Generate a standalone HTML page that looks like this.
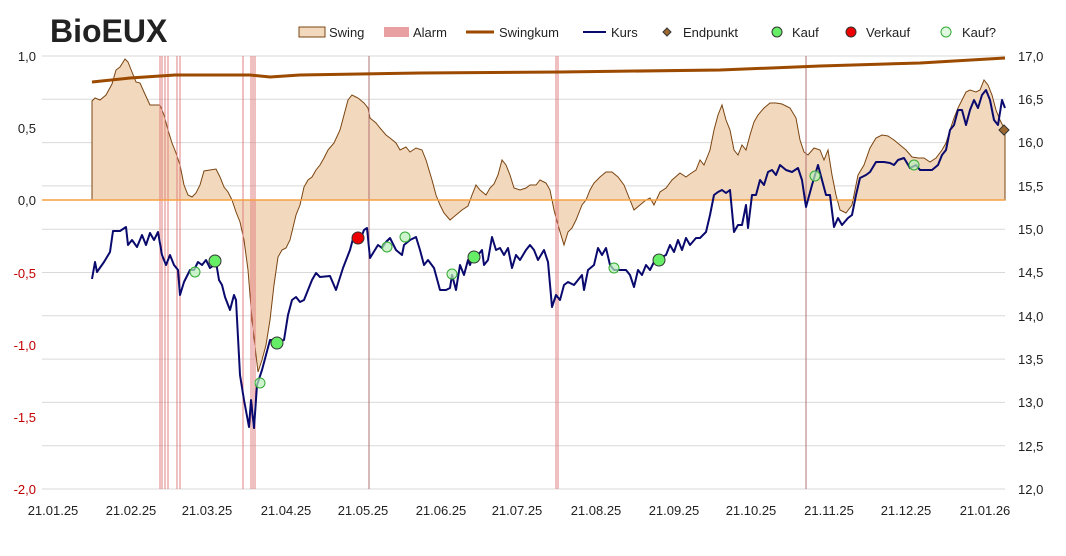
<!DOCTYPE html>
<html><head><meta charset="utf-8"><style>
body{margin:0;background:#fff}
svg{display:block;font-family:"Liberation Sans",sans-serif}
</style></head><body>
<svg width="1066" height="556" viewBox="0 0 1066 556" xmlns="http://www.w3.org/2000/svg">
<rect width="1066" height="556" fill="#fff"/>
<g stroke="#d9d9d9" stroke-width="1">
<line x1="42" y1="56" x2="1005" y2="56"/><line x1="42" y1="99.3" x2="1005" y2="99.3"/><line x1="42" y1="142.6" x2="1005" y2="142.6"/><line x1="42" y1="185.9" x2="1005" y2="185.9"/><line x1="42" y1="229.2" x2="1005" y2="229.2"/><line x1="42" y1="272.5" x2="1005" y2="272.5"/><line x1="42" y1="315.8" x2="1005" y2="315.8"/><line x1="42" y1="359.1" x2="1005" y2="359.1"/><line x1="42" y1="402.4" x2="1005" y2="402.4"/><line x1="42" y1="445.7" x2="1005" y2="445.7"/><line x1="42" y1="489" x2="1005" y2="489"/>
</g>
<polygon fill="#f2d9be" stroke="#7a4410" stroke-width="1" points="92,200 92,101 95,98 100,100 106,95 112,84 116,70 120,67 125,59 128,62 132,72 136,82 140,83 144,92 150,105 160,105 164,115 168,130 172,143 176,153 180,165 184,185 188,195 192,197 196,193 200,185 204,171 210,170 216,169 220,177 224,187 228,192 232,200 236,212 240,222 244,240 248,270 252,320 256,355 258,372 262,360 266,345 270,320 274,285 278,257 282,250 286,248 290,240 296,215 300,205 304,187 308,180 312,177 316,170 320,165 324,158 328,150 334,143 340,130 344,115 348,100 352,95 358,98 364,103 368,108 370,118 376,123 380,128 386,135 390,138 396,143 400,150 406,147 410,152 416,148 422,150 426,160 432,180 436,195 440,205 444,213 450,220 456,215 462,210 468,206 472,195 476,185 480,190 486,195 490,188 494,184 498,175 502,160 506,165 510,175 514,188 520,190 526,188 530,185 536,185 540,180 546,183 550,190 554,210 558,225 564,245 568,232 572,228 576,220 582,205 586,200 590,190 594,183 600,177 606,172 612,172 618,177 624,185 628,195 634,210 640,205 646,200 650,198 654,205 660,192 666,188 672,180 680,173 686,177 690,174 696,170 700,160 704,165 710,150 714,130 718,115 722,105 726,120 730,130 734,150 738,155 742,145 746,150 750,135 754,122 758,115 764,108 770,103 776,103 782,104 790,108 796,118 800,140 804,152 808,155 814,148 820,150 824,160 828,150 832,175 836,195 840,210 846,213 852,205 858,175 864,165 870,148 876,138 882,135 888,136 894,140 900,145 906,150 912,157 918,158 924,158 930,162 936,158 942,150 946,143 950,130 954,118 958,108 962,100 966,92 970,90 976,92 980,90 984,80 988,85 992,95 996,110 1000,120 1005,130 1005,200"/>
<g stroke="#e08080" stroke-width="1">
<line x1="160" y1="56" x2="160" y2="489"/><line x1="162" y1="56" x2="162" y2="489"/><line x1="165" y1="56" x2="165" y2="489"/><line x1="168" y1="56" x2="168" y2="489"/><line x1="177" y1="56" x2="177" y2="489"/><line x1="180" y1="56" x2="180" y2="489"/><line x1="243" y1="56" x2="243" y2="489"/><line x1="251" y1="56" x2="251" y2="489"/><line x1="253" y1="56" x2="253" y2="489"/><line x1="255" y1="56" x2="255" y2="489"/><line x1="556" y1="56" x2="556" y2="489"/><line x1="558" y1="56" x2="558" y2="489"/>
</g>
<g stroke="#b07070" stroke-width="1"><line x1="369" y1="56" x2="369" y2="489"/><line x1="806" y1="56" x2="806" y2="489"/></g>
<line x1="42" y1="200" x2="1005" y2="200" stroke="#f5a040" stroke-width="1.5"/>
<polyline fill="none" stroke="#9c4a00" stroke-width="3" points="92,82 130,78 175,75 250,75 270,77 300,75 420,73 560,72 720,70 820,66 920,63 1005,58"/>
<polyline fill="none" stroke="#0a0a6e" stroke-width="2" stroke-linejoin="round" points="92,279 95,262 97,272 104,262 110,252 113,231 120,231 126,227 128,245 132,240 137,247 142,235 146,245 150,233 154,240 158,232 162,255 166,265 170,255 174,265 178,270 180,295 184,282 190,270 194,270 198,262 202,265 206,260 210,268 214,265 216,262 219,280 222,285 225,297 230,310 234,295 236,300 240,375 244,400 249,427 251,400 254,428 257,385 262,370 266,355 270,340 272,340 276,342 284,340 288,315 292,300 296,297 300,302 304,300 312,280 316,273 320,277 330,276 336,290 343,268 350,250 354,235 357,238 361,238 364,230 367,228 370,258 378,245 382,248 386,242 390,238 396,250 402,255 404,245 410,240 416,237 420,250 424,265 428,260 434,268 440,290 446,290 450,288 452,275 456,290 460,265 464,275 468,260 470,265 474,253 478,255 482,250 484,265 488,260 492,237 496,250 500,248 504,255 508,248 512,268 516,255 520,260 526,250 530,245 534,250 538,260 544,250 548,262 552,307 556,295 560,300 564,285 568,282 574,285 578,280 582,275 584,290 588,270 594,265 598,248 602,255 606,248 610,265 614,270 620,270 626,270 630,275 634,287 638,270 642,275 646,265 650,270 654,262 660,258 666,255 670,245 674,252 678,240 682,250 686,238 690,245 696,238 700,238 706,232 710,215 714,195 718,192 722,190 726,193 730,190 734,232 738,225 742,225 746,205 748,228 752,195 756,195 760,180 764,185 768,172 772,170 776,175 780,165 786,170 792,172 798,168 802,180 806,207 812,185 818,165 822,180 826,195 830,195 834,227 838,218 842,225 848,218 852,215 856,195 860,178 866,175 870,172 876,162 884,162 890,163 894,165 898,160 904,158 910,168 916,165 920,170 926,170 932,170 938,165 942,155 946,150 950,130 954,125 958,110 962,110 966,125 970,110 974,100 978,108 982,95 986,90 990,100 994,120 998,125 1002,100 1005,108"/>
<g fill="#b8f0b8" fill-opacity="0.7" stroke="#33aa33" stroke-width="1">
<circle cx="195" cy="272" r="5"/><circle cx="260" cy="383" r="5"/><circle cx="387" cy="247" r="5"/><circle cx="405" cy="237" r="5"/><circle cx="452" cy="274" r="5"/><circle cx="614" cy="268" r="5"/><circle cx="815" cy="176" r="5"/><circle cx="914" cy="165" r="5"/>
</g>
<g fill="#66ee66" stroke="#333" stroke-width="1">
<circle cx="215" cy="261" r="6"/><circle cx="277" cy="343" r="6"/><circle cx="474" cy="257" r="6"/><circle cx="659" cy="260" r="6"/>
</g>
<circle cx="358" cy="238" r="6" fill="#ee0000" stroke="#333"/>
<polygon points="1004,125 1009,130 1004,135 999,130" fill="#9c6a30" stroke="#333"/>
<g font-size="13" text-anchor="end">
<text x="36" y="61" fill="#222">1,0</text><text x="36" y="133" fill="#222">0,5</text><text x="36" y="205" fill="#222">0,0</text>
<text x="36" y="278" fill="#c00000">-0,5</text><text x="36" y="350" fill="#c00000">-1,0</text><text x="36" y="422" fill="#c00000">-1,5</text><text x="36" y="494" fill="#c00000">-2,0</text>
</g>
<g font-size="13" fill="#222">
<text x="1018" y="61">17,0</text><text x="1018" y="104">16,5</text><text x="1018" y="147">16,0</text><text x="1018" y="191">15,5</text><text x="1018" y="234">15,0</text><text x="1018" y="277">14,5</text><text x="1018" y="321">14,0</text><text x="1018" y="364">13,5</text><text x="1018" y="407">13,0</text><text x="1018" y="451">12,5</text><text x="1018" y="494">12,0</text>
</g>
<g font-size="13" fill="#222" text-anchor="middle">
<text x="53" y="515">21.01.25</text><text x="131" y="515">21.02.25</text><text x="207" y="515">21.03.25</text><text x="286" y="515">21.04.25</text><text x="363" y="515">21.05.25</text><text x="441" y="515">21.06.25</text><text x="517" y="515">21.07.25</text><text x="596" y="515">21.08.25</text><text x="674" y="515">21.09.25</text><text x="751" y="515">21.10.25</text><text x="829" y="515">21.11.25</text><text x="906" y="515">21.12.25</text><text x="985" y="515">21.01.26</text>
</g>
<text x="50" y="42" font-size="32" font-weight="bold" fill="#222">BioEUX</text>
<g font-size="13" fill="#222">
<rect x="299" y="27" width="26" height="10" fill="#f2d9be" stroke="#7a4410"/><text x="329" y="37">Swing</text>
<rect x="384" y="27" width="25" height="10" fill="#e8a0a0"/><text x="413" y="37">Alarm</text>
<line x1="466" y1="32" x2="494" y2="32" stroke="#9c4a00" stroke-width="3"/><text x="499" y="37">Swingkum</text>
<line x1="583" y1="32" x2="606" y2="32" stroke="#0a0a6e" stroke-width="2"/><text x="611" y="37">Kurs</text>
<polygon points="667,28 671,32 667,36 663,32" fill="#9c6a30" stroke="#333"/><text x="683" y="37">Endpunkt</text>
<circle cx="777" cy="32" r="5" fill="#66ee66" stroke="#333"/><text x="792" y="37">Kauf</text>
<circle cx="851" cy="32" r="5" fill="#ee0000" stroke="#333"/><text x="866" y="37">Verkauf</text>
<circle cx="946" cy="32" r="5" fill="#e0f8e0" stroke="#33aa33"/><text x="962" y="37">Kauf?</text>
</g>
</svg>
</body></html>
